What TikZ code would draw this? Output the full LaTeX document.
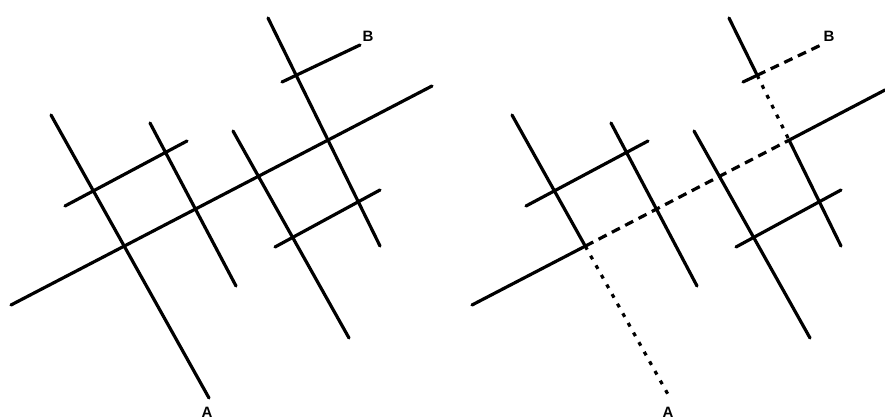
\documentclass[tikz,border=0pt]{standalone}
\usepackage{fontspec}
\setmainfont{Liberation Sans}
\begin{document}
\begin{tikzpicture}[x=1pt,y=-1pt,
  road/.style={line width=3.2pt,line cap=round,black},
  roadpath/.style={line width=3.2pt,line cap=butt,black,dash pattern=on 9pt off 6pt},
  roaddot/.style={line width=3.2pt,line cap=butt,black,dash pattern=on 4pt off 7pt},
  lbl/.style={font=\fontsize{15}{15}\selectfont\bfseries,inner sep=0pt}]
\useasboundingbox (0,0) rectangle (885,419);
\newcommand\defpanel[1]{%
  \coordinate (#1-1a) at (51,115);  \coordinate (#1-1b) at (209,398);
  \coordinate (#1-2a) at (150,123); \coordinate (#1-2b) at (236,286);
  \coordinate (#1-3a) at (233,131); \coordinate (#1-3b) at (349,338);
  \coordinate (#1-4a) at (268,18);  \coordinate (#1-4b) at (380,246);
  \coordinate (#1-ma) at (11,305);  \coordinate (#1-mb) at (432,86);
  \coordinate (#1-s1a) at (65,206); \coordinate (#1-s1b) at (187,141);
  \coordinate (#1-s2a) at (275,247);\coordinate (#1-s2b) at (380,190);
  \coordinate (#1-s3a) at (282,82); \coordinate (#1-s3b) at (360,45);
  \node[lbl] (#1-A) at (207,412) {A};
  \node[lbl] (#1-B) at (368,36) {B};}
% left panel
\defpanel{l}
\draw[road] (l-1a) -- (l-1b);
\draw[road] (l-2a) -- (l-2b);
\draw[road] (l-3a) -- (l-3b);
\draw[road] (l-4a) -- (l-4b);
\draw[road] (l-ma) -- (l-mb);
\draw[road] (l-s1a) -- (l-s1b);
\draw[road] (l-s2a) -- (l-s2b);
\draw[road] (l-s3a) -- (l-s3b);
% right panel
\begin{scope}[xshift=461pt]
\defpanel{r}
\end{scope}
\coordinate (r-mc) at (885,90);
\coordinate (x1) at (intersection of r-1a--r-1b and r-ma--r-mb);
\coordinate (x4) at (intersection of r-4a--r-4b and r-ma--r-mb);
\coordinate (x5) at (intersection of r-4a--r-4b and r-s3a--r-s3b);
\draw[road] (r-1a) -- (x1);
\draw[roaddot] (x1) -- (r-1b);
\draw[road] (r-2a) -- (r-2b);
\draw[road] (r-3a) -- (r-3b);
\draw[road] (r-4a) -- (x5);
\draw[roaddot] (x5) -- (x4);
\draw[road] (x4) -- (r-4b);
\draw[road] (r-ma) -- (x1);
\draw[roadpath] (x1) -- (x4);
\draw[road] (x4) -- (r-mc);
\draw[road] (r-s1a) -- (r-s1b);
\draw[road] (r-s2a) -- (r-s2b);
\draw[road] (r-s3a) -- (x5);
\draw[roadpath] (x5) -- (r-s3b);
\end{tikzpicture}
\end{document}
